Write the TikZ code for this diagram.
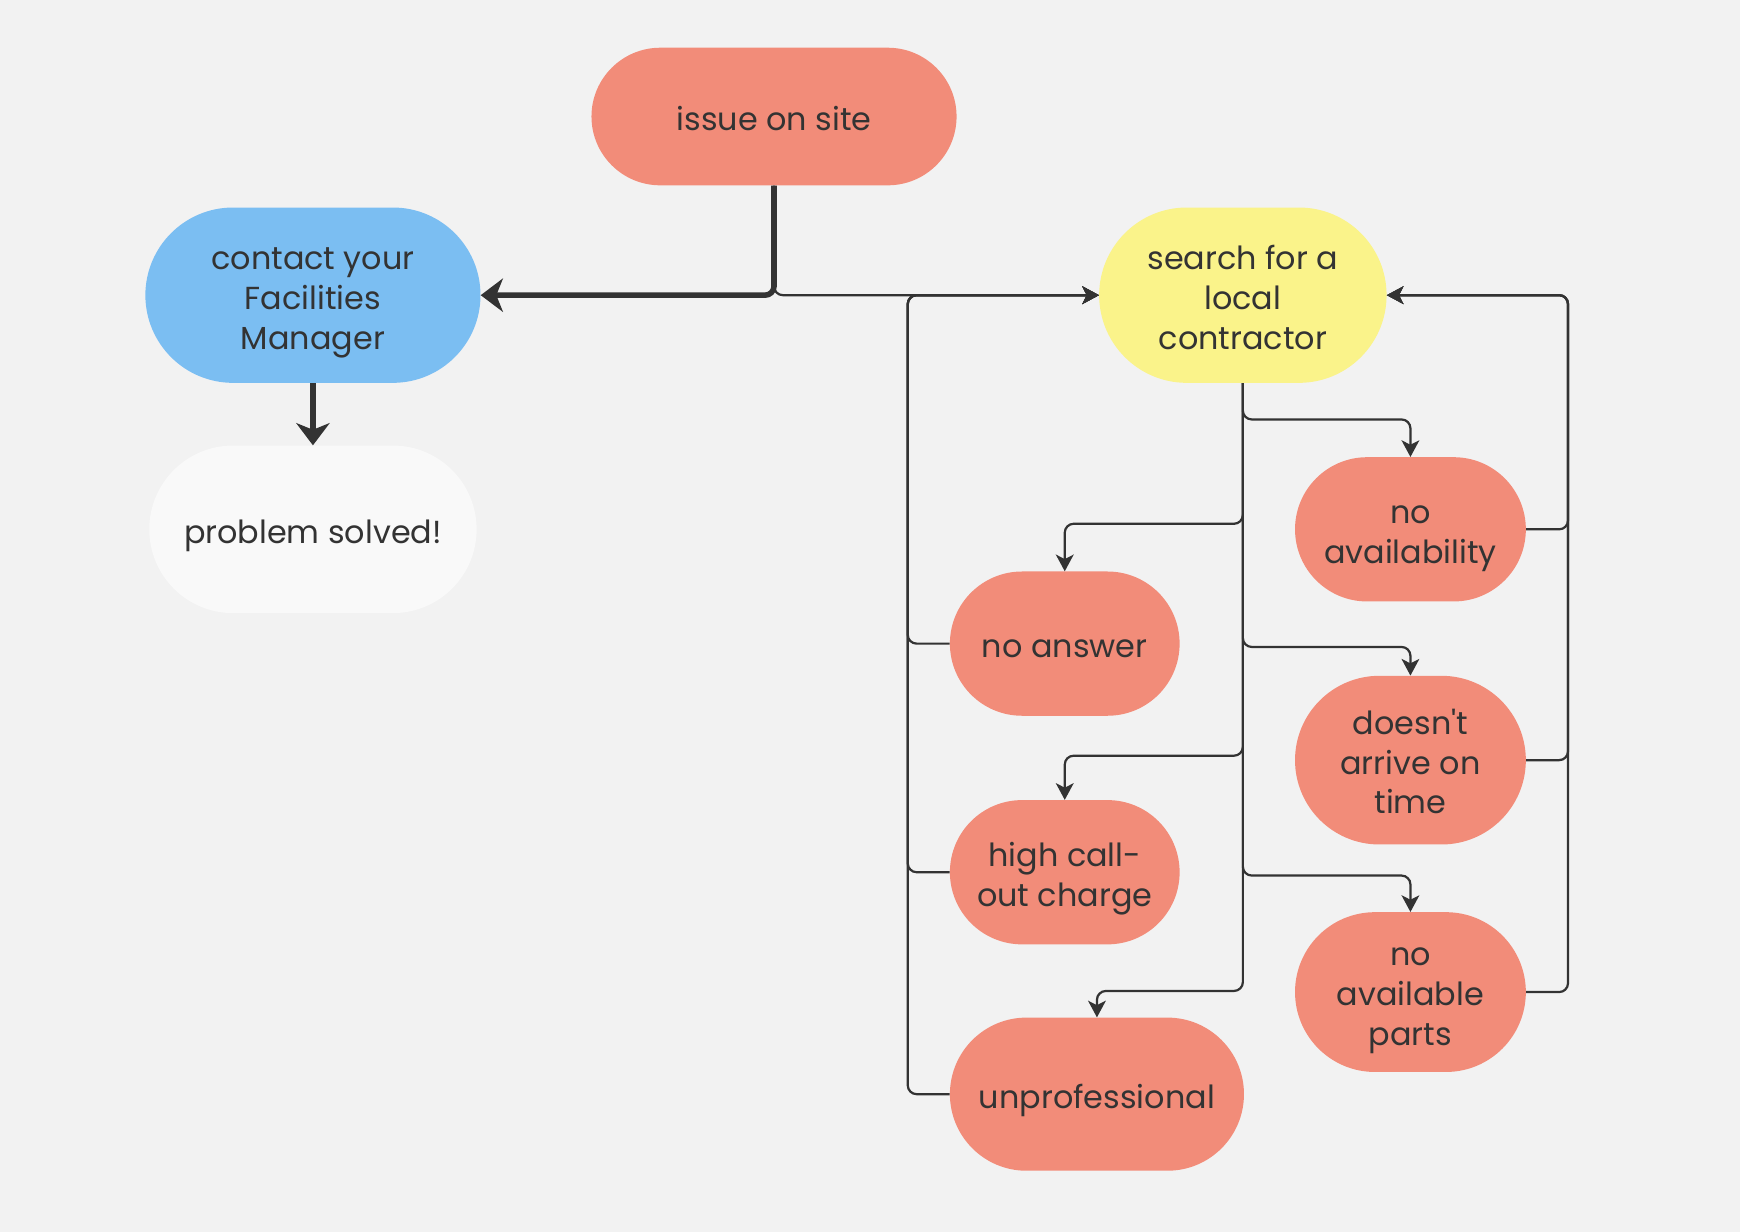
\documentclass[tikz,border=0pt]{standalone}
\usepackage{fontspec}
\setmainfont{Poppins}[Ligatures=TeXOff]
\usetikzlibrary{shapes.misc,arrows.meta}
\definecolor{bg}{HTML}{F2F2F2}
\definecolor{salmon}{HTML}{F28C79}
\definecolor{sky}{HTML}{7BBEF2}
\definecolor{lemon}{HTML}{FAF38A}
\definecolor{paper}{HTML}{F9F9F9}
\definecolor{ink}{HTML}{333333}
\newcommand\topstrut{\rule{0pt}{36pt}}
\tikzset{
  pill/.style={rounded rectangle, inner sep=0pt, align=center, text=ink,
    font=\fontsize{28.7}{36}\selectfont,
    execute at end node={\rule[-11pt]{0pt}{11pt}}},
  thinline/.style={draw=ink, line width=2pt, rounded corners=8pt,
    -{Stealth[length=15pt,width=16pt,inset=4pt]}},
  thickline/.style={draw=ink, line width=5pt, rounded corners=8pt,
    -{Stealth[length=20pt,width=30pt,inset=6pt]}},
}
\begin{document}
\begin{tikzpicture}[x=1pt,y=-1pt]
\fill[bg] (0,0) rectangle (1568,1110);
\useasboundingbox (0,0) rectangle (1568,1110);

\node[pill, fill=salmon, minimum width=329pt, minimum height=124pt] (issue) at (697.5,105) {\topstrut issue on site};
\node[pill, fill=sky, minimum width=302pt, minimum height=158pt] (fm) at (282,266) {\topstrut contact your\\Facilities\\Manager};
\node[pill, fill=paper, minimum width=295pt, minimum height=151pt] (solved) at (282,477) {\topstrut problem solved!};
\node[pill, fill=lemon, minimum width=259pt, minimum height=158pt] (search) at (1120,266) {\topstrut search for a\\local\\contractor};
\node[pill, fill=salmon, minimum width=208pt, minimum height=130pt] (noavail) at (1271,477) {\topstrut no\\availability};
\node[pill, fill=salmon, minimum width=207pt, minimum height=130pt] (noans) at (959.5,580) {\topstrut no answer};
\node[pill, fill=salmon, minimum width=208pt, minimum height=152pt] (late) at (1271,685) {\topstrut doesn't\\arrive on\\time};
\node[pill, fill=salmon, minimum width=207pt, minimum height=130pt] (high) at (959.5,786) {\topstrut high call-\\out charge};
\node[pill, fill=salmon, minimum width=208pt, minimum height=144pt] (parts) at (1271,894) {\topstrut no\\available\\parts};
\node[pill, fill=salmon, minimum width=265pt, minimum height=138pt] (unprof) at (988.5,986) {\topstrut unprofessional};

% junction / routing coordinates
\coordinate (lx) at (818,266);
\coordinate (rx) at (1413,266);
\coordinate (b1) at (1271,378);
\coordinate (b2) at (959.5,472);
\coordinate (b3) at (1271,583);
\coordinate (b4) at (959.5,681);
\coordinate (b5) at (1271,789);
\coordinate (b6) at (988.5,893);

% thin connectors
\draw[thinline] (issue.south) |- (search.west);
\draw[thinline] (noans.west) -| (lx) -- (search.west);
\draw[thinline] (high.west) -| (lx) -- (search.west);
\draw[thinline] (unprof.west) -| (lx) -- (search.west);
\draw[thinline] (noavail.east) -| (rx) -- (search.east);
\draw[thinline] (late.east) -| (rx) -- (search.east);
\draw[thinline] (parts.east) -| (rx) -- (search.east);
\draw[thinline] (search.south) |- (b1) -- (noavail.north);
\draw[thinline] (search.south) |- (b2) -- (noans.north);
\draw[thinline] (search.south) |- (b3) -- (late.north);
\draw[thinline] (search.south) |- (b4) -- (high.north);
\draw[thinline] (search.south) |- (b5) -- (parts.north);
\draw[thinline] (search.south) |- (b6) -- (unprof.north);

% thick connectors
\draw[thickline] (issue.south) |- (fm.east);
\draw[thickline] (fm.south) -- (solved.north);
\end{tikzpicture}
\end{document}
